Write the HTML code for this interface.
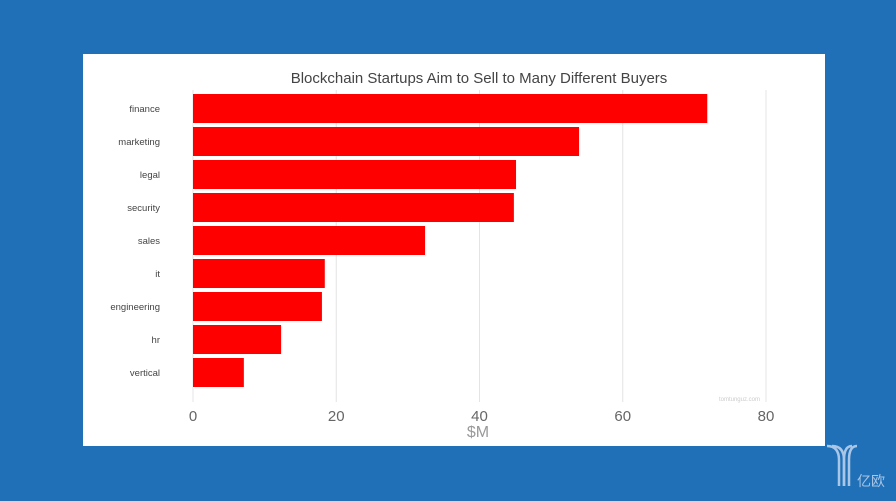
<!DOCTYPE html>
<html><head><meta charset="utf-8"><style>
body{margin:0;width:896px;height:496px;background:#2070b8;overflow:hidden;font-family:"Liberation Sans",sans-serif}
</style></head><body>
<svg width="896" height="496">
<rect x="83" y="54" width="742" height="392" fill="#fff"/>
<text x="479" y="83" text-anchor="middle" font-size="15" fill="#444">Blockchain Startups Aim to Sell to Many Different Buyers</text>
<g id="grid"></g><g id="bars"></g><g id="labels"></g>
<text x="478" y="437" text-anchor="middle" font-size="16" fill="#999">$M</text>
<text x="760" y="401" text-anchor="end" font-size="6" fill="#ccc">tomtunguz.com</text>
<g fill="none" stroke="#a9c6e6" stroke-width="2.5">
<path d="M827 446 q12 0 12 14 v26"/><path d="M832 446 q12 0 12 14 v26"/><path d="M857 446 q-8 0 -8 14 v26"/><path d="M852 446 q-8 0 -8 14 v26"/>
</g>
<text x="857" y="486" font-size="14" fill="#a9c6e6" font-family="'Noto Sans CJK SC',sans-serif">亿欧</text>
</svg>
<script>
const categories=["finance","marketing","legal","security","sales","it","engineering","hr","vertical"];
const values=[71.8,53.9,45.1,44.8,32.4,18.4,18.0,12.3,7.1];
const ticks=[0,20,40,60,80];
const ns="http://www.w3.org/2000/svg";
const x=v=>193+v*(766-193)/80;
const y=i=>94+i*33;
function mk(t,a,p){const e=document.createElementNS(ns,t);for(const k in a)e.setAttribute(k,a[k]);document.getElementById(p).appendChild(e);return e;}
ticks.forEach(t=>{
 const l=mk("line",{x1:x(t),x2:x(t),y1:90,y2:402,stroke:"#e4e4e4","stroke-width":1},"grid");
 
 
 const tx=mk("text",{x:x(t),y:421,"text-anchor":"middle","font-size":15,fill:"#666"},"grid");
 tx.textContent=t;
 
 
});
categories.forEach((c,i)=>{
 const r=mk("rect",{x:x(0),y:y(i),width:x(values[i])-x(0),height:29,fill:"#ff0000"},"bars");
 
 
 const t=mk("text",{x:160,y:y(i)+18,"text-anchor":"end","font-size":9.5,fill:"#444"},"labels");
 t.textContent=c;
 
 
});
</script>
</body></html>
